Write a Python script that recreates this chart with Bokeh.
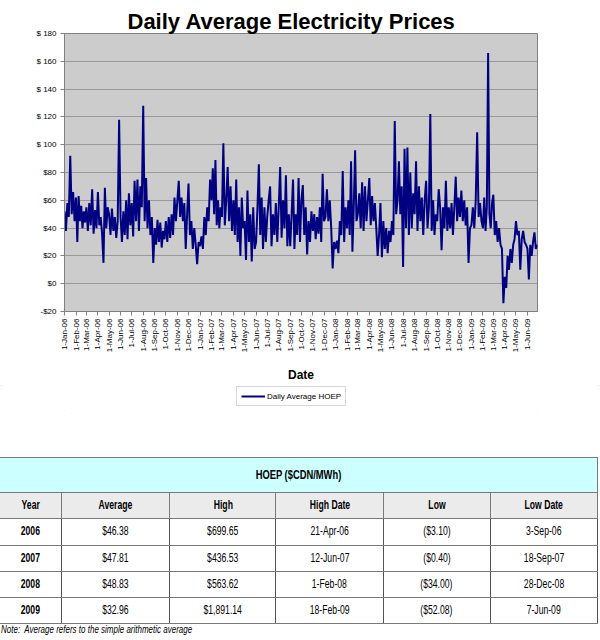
import numpy as np
import pandas as pd
from bokeh.plotting import figure
from bokeh.models import (Range1d, FixedTicker, DatetimeTickFormatter, Legend,
                          LegendItem, Div)
from bokeh.layouts import column
from bokeh.embed import file_html
from bokeh.resources import INLINE

# ---------------- data (8 readings per month) -------------
hoep_2006 = [
    52, 38, 58, 48, 92, 50, 66, 45,      # Jan
    62, 30, 63, 45, 56, 40, 52, 44,      # Feb
    55, 38, 58, 42, 68, 36, 53, 40,      # Mar
    66, 42, 48, 36, 15, 69, 40, 55,      # Apr
    50, 35, 54, 38, 48, 33, 45, 118,     # May
    48, 30, 52, 35, 60, 32, 65, 42,      # Jun
    58, 34, 74, 45, 75, 38, 70, 55,      # Jul
    128, 45, 76, 40, 60, 35, 48, 15,     # Aug
    40, 28, 46, 30, 44, 26, 38, 32,      # Sep
    45, 30, 48, 33, 50, 35, 62, 45,      # Oct
    60, 74, 48, 62, 45, 58, 25, 50,      # Nov
    72, 35, 45, 25, 40, 28, 14, 30,      # Dec
]
hoep_2007 = [
    27, 34, 25, 48, 35, 55, 45, 75,      # Jan
    60, 83, 50, 89, 42, 60, 40, 55,      # Feb
    48, 101, 42, 60, 84, 45, 70, 38,     # Mar
    60, 35, 75, 30, 55, 20, 62, 40,      # Apr
    45, 17, 67, 30, 50, 16, 55, 25,      # May
    30, 55, 86, 35, 62, 25, 55, 30,      # Jun
    48, 60, 70, 27, 50, 35, 58, 30,      # Jul
    55, 84, 33, 60, 40, 78, 27, 50,      # Aug
    27, 50, 75, 25, 50, 35, 76, 30,      # Sep
    60, 71, 35, 55, 21, 45, 30, 52,      # Oct
    38, 50, 32, 48, 36, 55, 30, 79,      # Nov
    45, 48, 68, 45, 60, 40, 11, 30,      # Dec
]
hoep_2008 = [
    25, 31, 22, 45, 35, 81, 30, 55,      # Jan
    40, 60, 35, 88, 23, 55, 96, 45,      # Feb
    50, 65, 40, 73, 38, 70, 45, 60,      # Mar
    76, 42, 63, 45, 58, 40, 20, 35,      # Apr
    58, 19, 45, 25, 40, 22, 38, 30,      # May
    45, 35, 117, 50, 60, 88, 50, 70,     # Jun
    12, 97, 40, 98, 35, 80, 40, 65,      # Jul
    50, 88, 38, 70, 45, 62, 35, 60,      # Aug
    74, 40, 55, 122, 38, 60, 35, 50,     # Sep
    45, 68, 55, 24, 55, 40, 74, 38,      # Oct
    55, 40, 58, 35, 55, 77, 45, 62,      # Nov
    48, 67, 45, 60, 42, 55, 15, 40,      # Dec
]
hoep_2009 = [
    42, 55, 40, 60, 109, 48, 58, 45,     # Jan
    40, 62, 38, 55, 166, 50, 40, 58,     # Feb
    64, 35, 45, 30, 40, 28, 25, -14,     # Mar
    5, -3, 20, 10, 25, 15, 28, 32,       # Apr
    45, 35, 38, 10, 32, 38, 30, 28,      # May
    25, 3, 28, 20, 30, 37, 25, 28,       # Jun
]

y_ticks = [-20, 0, 20, 40, 60, 80, 100, 120, 140, 160, 180]
y_tick_labels = ["-$20", "$0", "$20", "$40", "$60", "$80",
                 "$ 100", "$ 120", "$ 140", "$ 160", "$ 180"]
month_ticks = pd.date_range("2006-01-01", "2009-06-01", freq="MS")
x_start = pd.Timestamp("2006-01-01")
x_end = pd.Timestamp("2009-06-28")

series_name = "Daily Average HOEP"
table_title = "HOEP ($CDN/MWh)"
table_columns = ["Year", "Average", "High", "High Date", "Low", "Low Date"]
table_years = ["2006", "2007", "2008", "2009"]
table_average = ["$46.38", "$47.81", "$48.83", "$32.96"]
table_high = ["$699.65", "$436.53", "$563.62", "$1,891.14"]
table_high_date = ["21-Apr-06", "12-Jun-07", "1-Feb-08", "18-Feb-09"]
table_low = ["($3.10)", "($0.40)", "($34.00)", "($52.08)"]
table_low_date = ["3-Sep-06", "18-Sep-07", "28-Dec-08", "7-Jun-09"]
note_text = "Note:&nbsp; Average refers to the simple arithmetic average"

# ---------------- dates for the readings -----------------
values = hoep_2006 + hoep_2007 + hoep_2008 + hoep_2009
dates = []
for ms in month_ticks:
    L = ms.days_in_month
    for k in range(8):
        dates.append(ms + pd.Timedelta(days=k * L / 8.0))
dates = pd.DatetimeIndex(dates[:len(values)])

FONT = "Liberation Sans"
LINE_COLOR = "#000080"

# ---------------- chart -----------------
p = figure(width=600, height=385, x_axis_type="datetime",
           x_range=Range1d(x_start, x_end), y_range=Range1d(-20, 180),
           output_backend="svg", toolbar_location=None,
           min_border_left=64, min_border_right=63, min_border_top=33,
           min_border_bottom=72, background_fill_color="#CCCCCC",
           border_fill_color="white", outline_line_color="#808080")

p.title.text = "Daily Average Electricity Prices"
p.title.text_font = FONT
p.title.text_font_size = "22px"
p.title.text_font_style = "bold"
p.title.align = "left"
p.title.offset = 63
p.title.standoff = 0
p.title.text_color = "black"

r = p.line(dates, values, line_color=LINE_COLOR, line_width=2)

yt = FixedTicker(ticks=y_ticks)
p.yaxis.ticker = yt
p.ygrid.ticker = yt
p.yaxis.major_label_overrides = dict(zip(y_ticks, y_tick_labels))
xt = FixedTicker(ticks=[t.value / 1e6 for t in month_ticks])
p.xaxis.ticker = xt
fmt = "1-%b-%y"
p.xaxis.formatter = DatetimeTickFormatter(
    microseconds=fmt, milliseconds=fmt, seconds=fmt, minsec=fmt, minutes=fmt,
    hourmin=fmt, hours=fmt, days=fmt, months=fmt, years=fmt)
p.xaxis.major_label_orientation = np.pi / 2

p.xgrid.visible = False
p.ygrid.grid_line_color = "#999999"
p.ygrid.grid_line_width = 1

p.axis.axis_line_color = "#808080"
p.axis.major_tick_line_color = "#808080"
p.axis.minor_tick_line_color = None
p.axis.major_tick_out = 4
p.axis.major_tick_in = 0
p.axis.major_label_text_font = FONT
p.axis.major_label_text_font_size = "8px"
p.axis.major_label_text_color = "black"
p.yaxis.major_label_standoff = 4
p.xaxis.major_label_standoff = 3
p.xaxis.axis_label = "Date"
p.xaxis.axis_label_text_font = FONT
p.xaxis.axis_label_text_font_size = "12px"
p.xaxis.axis_label_text_font_style = "bold"
p.xaxis.axis_label_text_color = "black"
p.xaxis.axis_label_standoff = 13

# ---------------- legend strip (same frame as chart) -----------------
# the key line carries the same series; the strip's own range keeps it off-view
leg = figure(width=600, height=27, x_range=Range1d(0, 1), y_range=Range1d(0, 1),
             x_axis_type="datetime", y_axis_type=None, output_backend="svg",
             toolbar_location=None, min_border_left=64, min_border_right=63,
             min_border_top=0, min_border_bottom=0, outline_line_color=None,
             border_fill_color="white", background_fill_color="white")
leg.xaxis.visible = False
leg.xgrid.visible = False
key = leg.line(dates, values, line_color=LINE_COLOR, line_width=2)
legend = Legend(items=[LegendItem(label=series_name, renderers=[key])],
                location=(172, 6), orientation="horizontal",
                label_text_font=FONT, label_text_font_size="8px",
                label_text_color="black", glyph_width=24, glyph_height=10,
                label_height=10, label_standoff=2, padding=4, margin=0,
                spacing=0, border_line_color="#b0b0b0",
                background_fill_color="white", background_fill_alpha=1.0)
leg.add_layout(legend)

chart = column(p, leg, spacing=0,
               styles={"outline": "1px solid #c8c8c8", "outline-offset": "-2px"})

# ---------------- table (HTML) -----------------
col_widths = [62, 108, 106, 107, 107, 107]
row_heights = [35, 26, 27, 26, 26, 26]
SCALE = 0.72


def cond(txt, bold=False, size=12, weight=None):
    w = weight if weight else ("bold" if bold else "normal")
    return ('<span style="display:inline-block;transform:scaleX(%s);'
            'font-size:%dpx;font-weight:%s;white-space:nowrap;">%s</span>'
            % (SCALE, size, w, txt))


td = ("border:1.5px solid #7a7a7a;text-align:center;vertical-align:middle;"
      "padding:0;overflow:visible;")

rows_html = []
rows_html.append('<tr style="height:%dpx;background:#CCFFFF;">'
                 '<td colspan="6" style="%s">%s</td></tr>'
                 % (row_heights[0], td, cond(table_title, size=13, weight="900")))
rows_html.append('<tr style="height:%dpx;background:#EBEBEB;">%s</tr>'
                 % (row_heights[1],
                    "".join('<td style="%s">%s</td>' % (td, cond(c, bold=True))
                            for c in table_columns)))
for i in range(len(table_years)):
    cells = [cond(table_years[i], bold=True), cond(table_average[i]),
             cond(table_high[i]), cond(table_high_date[i]), cond(table_low[i]),
             cond(table_low_date[i])]
    rows_html.append('<tr style="height:%dpx;background:#FFFFFF;">%s</tr>'
                     % (row_heights[2 + i],
                        "".join('<td style="%s%s">%s</td>'
                                % (td, "border-left:1.5px solid #555;border-right:1.5px solid #555;", c)
                                for c in cells)))

colgroup = "<colgroup>%s</colgroup>" % "".join(
    '<col style="width:%dpx">' % w for w in col_widths)

html = (
    '<div style="position:relative;width:600px;height:226px;'
    'font-family:\'Liberation Sans\',Arial,sans-serif;color:#000;">'
    '<table style="position:absolute;left:-1px;top:45px;width:599px;'
    'border-collapse:collapse;table-layout:fixed;">%s%s</table>'
    '<div style="position:absolute;left:1px;top:211px;font-size:10px;'
    'font-style:italic;white-space:nowrap;transform:scaleX(0.8);'
    'transform-origin:left center;">%s</div>'
    '</div>' % (colgroup, "".join(rows_html), note_text)
)
table_div = Div(text=html, width=600, height=226, margin=0)

layout = column(chart, table_div, spacing=0)
open("out.html", "w").write(file_html(layout, INLINE))
